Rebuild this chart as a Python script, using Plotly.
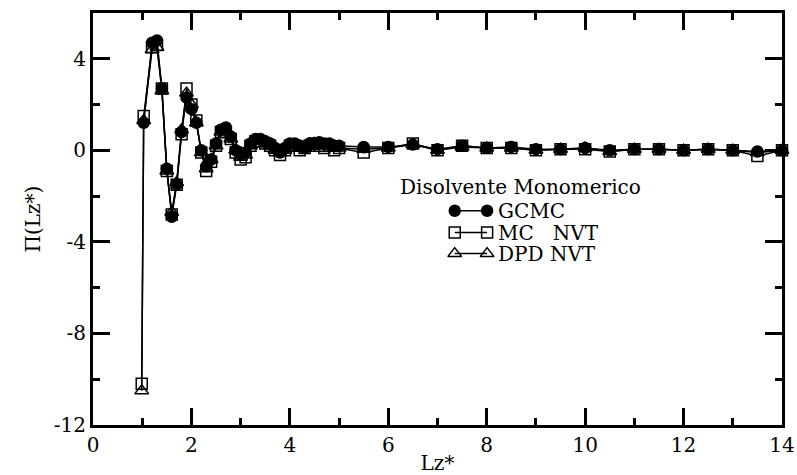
import plotly.graph_objects as go

# Disjoining pressure Π(Lz*) vs. slit width Lz* for a monomeric solvent
gcmc_x = [1.03, 1.2, 1.3, 1.4, 1.5, 1.6, 1.7, 1.8, 1.9, 2.0, 2.1, 2.2, 2.3, 2.4, 2.5,
          2.6, 2.7, 2.8, 2.9, 3.0, 3.1, 3.2, 3.3, 3.4, 3.5, 3.6, 3.7, 3.8, 3.9, 4.0,
          4.1, 4.2, 4.3, 4.4, 4.5, 4.6, 4.7, 4.8, 4.9, 5.0, 5.5, 6.0, 6.5, 7.0, 7.5,
          8.0, 8.5, 9.0, 9.5, 10.0, 10.5, 11.0, 11.5, 12.0, 12.5, 13.0, 13.5, 14.0]
gcmc_y = [1.2, 4.7, 4.8, 2.7, -0.8, -2.9, -1.5, 0.8, 2.3, 1.8, 1.2, 0.0, -0.7, -0.4, 0.3,
          0.9, 1.0, 0.6, 0.0, -0.2, -0.1, 0.3, 0.5, 0.5, 0.4, 0.3, 0.1, -0.1, 0.1, 0.3,
          0.3, 0.2, 0.1, 0.3, 0.3, 0.35, 0.3, 0.3, 0.2, 0.2, 0.15, 0.15, 0.25, 0.05, 0.2,
          0.1, 0.15, 0.05, 0.05, 0.1, 0.0, 0.05, 0.05, 0.0, 0.05, 0.0, -0.05, 0.0]

mc_x = [0.99, 1.03, 1.2, 1.3, 1.4, 1.5, 1.6, 1.7, 1.8, 1.9, 2.0, 2.1, 2.2, 2.3, 2.4,
        2.5, 2.6, 2.7, 2.8, 2.9, 3.0, 3.1, 3.2, 3.3, 3.4, 3.5, 3.6, 3.7, 3.8, 3.9,
        4.0, 4.1, 4.2, 4.3, 4.4, 4.5, 4.6, 4.7, 4.8, 4.9, 5.0, 5.5, 6.0, 6.5, 7.0,
        7.5, 8.0, 8.5, 9.0, 9.5, 10.0, 10.5, 11.0, 11.5, 12.0, 12.5, 13.0, 13.5, 14.0]
mc_y = [-10.2, 1.5, 4.5, 4.6, 2.7, -0.9, -2.8, -1.5, 0.7, 2.7, 2.0, 1.3, -0.1, -0.9, -0.5,
        0.2, 0.8, 0.8, 0.5, -0.1, -0.4, -0.3, 0.2, 0.4, 0.4, 0.3, 0.2, 0.0, -0.2, 0.0,
        0.2, 0.2, 0.0, 0.1, 0.2, 0.3, 0.2, 0.1, 0.2, 0.0, 0.1, -0.1, 0.1, 0.3, 0.0,
        0.2, 0.1, 0.1, 0.0, 0.05, 0.05, -0.05, 0.05, 0.05, 0.0, 0.05, 0.0, -0.25, 0.0]

dpd_x = list(mc_x)
dpd_y = [-10.5, 1.3, 4.4, 4.5, 2.6, -0.9, -2.7, -1.4, 0.9, 2.5, 2.0, 1.2, -0.1, -0.8, -0.4,
         0.2, 0.8, 0.9, 0.5, 0.0, -0.3, -0.2, 0.2, 0.4, 0.4, 0.3, 0.2, 0.0, -0.1, 0.0,
         0.2, 0.2, 0.1, 0.1, 0.2, 0.3, 0.2, 0.2, 0.2, 0.1, 0.1, 0.05, 0.1, 0.25, 0.0,
         0.15, 0.1, 0.1, 0.0, 0.05, 0.1, -0.05, 0.05, 0.05, 0.0, 0.05, 0.0, -0.1, 0.0]

series_names = ["GCMC", "MC   NVT", "DPD NVT"]
legend_title = "Disolvente Monomerico"

y_tick_vals = [-12, -8, -4, 0, 4]
y_tick_text = ["-12", "-8", "-4", "0", "4"]
y_minor_vals = [-10, -6, -2, 2, 6]

SERIF = "DejaVu Serif"
BLACK = "black"

fig = go.Figure()

styles = [
    dict(symbol="circle", size=11, color=BLACK, line=dict(color=BLACK, width=1.5)),
    dict(symbol="square-open", size=11, color=BLACK, line=dict(color=BLACK, width=1.5)),
    dict(symbol="triangle-up-open", size=12, color=BLACK, line=dict(color=BLACK, width=1.5)),
]

# draw order: DPD underneath, MC, then GCMC on top
for xs, ys, st in [(dpd_x, dpd_y, styles[2]), (mc_x, mc_y, styles[1]), (gcmc_x, gcmc_y, styles[0])]:
    fig.add_trace(go.Scatter(
        x=xs, y=ys, mode="lines+markers",
        line=dict(color=BLACK, width=1.5),
        marker=st, showlegend=False, cliponaxis=False,
    ))

# hand-drawn legend: two markers joined by a line, on a hidden overlay axis in paper units
key_x = [0.525, 0.572]
key_rows = [0.520, 0.467, 0.416]
for st, name, ky in zip(styles, series_names, key_rows):
    fig.add_trace(go.Scatter(
        x=key_x, y=[ky, ky], xaxis="x2", yaxis="y2", mode="lines+markers",
        line=dict(color=BLACK, width=1.5), marker=st, showlegend=False,
    ))
    fig.add_annotation(
        x=0.585, y=ky, xref="paper", yref="paper", text=name, showarrow=False,
        xanchor="left", yanchor="middle", font=dict(family=SERIF, size=20, color=BLACK),
    )

fig.add_annotation(
    x=0.442, y=0.578, xref="paper", yref="paper", text=legend_title, showarrow=False,
    xanchor="left", yanchor="middle", font=dict(family=SERIF, size=20, color=BLACK),
)

axis_common = dict(
    showgrid=False, zeroline=False, showline=True, linecolor=BLACK, linewidth=3,
    mirror="allticks", ticks="inside", ticklen=17, tickwidth=2.5, tickcolor=BLACK,
    tickfont=dict(family=SERIF, size=20, color=BLACK), automargin=False,
)

fig.update_layout(
    width=797, height=475,
    margin=dict(l=93, r=15, t=13, b=50),
    paper_bgcolor="white", plot_bgcolor="white",
    font=dict(family=SERIF, color=BLACK),
    xaxis=dict(
        range=[0, 14], tick0=0, dtick=2,
        minor=dict(dtick=1, ticks="inside", ticklen=7, tickwidth=2.5, tickcolor=BLACK),
        title=dict(text="Lz*", font=dict(family=SERIF, size=20, color=BLACK), standoff=0),
        **axis_common,
    ),
    yaxis=dict(
        range=[-12, 6], tickmode="array", tickvals=y_tick_vals, ticktext=y_tick_text,
        minor=dict(tickmode="array", tickvals=y_minor_vals, ticks="inside", ticklen=7,
                   tickwidth=2.5, tickcolor=BLACK),
        title=dict(text="Π(Lz*)", font=dict(family=SERIF, size=20, color=BLACK), standoff=8),
        **axis_common,
    ),
    xaxis2=dict(range=[0, 1], overlaying="x", visible=False, domain=[0, 1]),
    yaxis2=dict(range=[0, 1], overlaying="y", visible=False, domain=[0, 1]),
)

fig.write_html("out.html")
